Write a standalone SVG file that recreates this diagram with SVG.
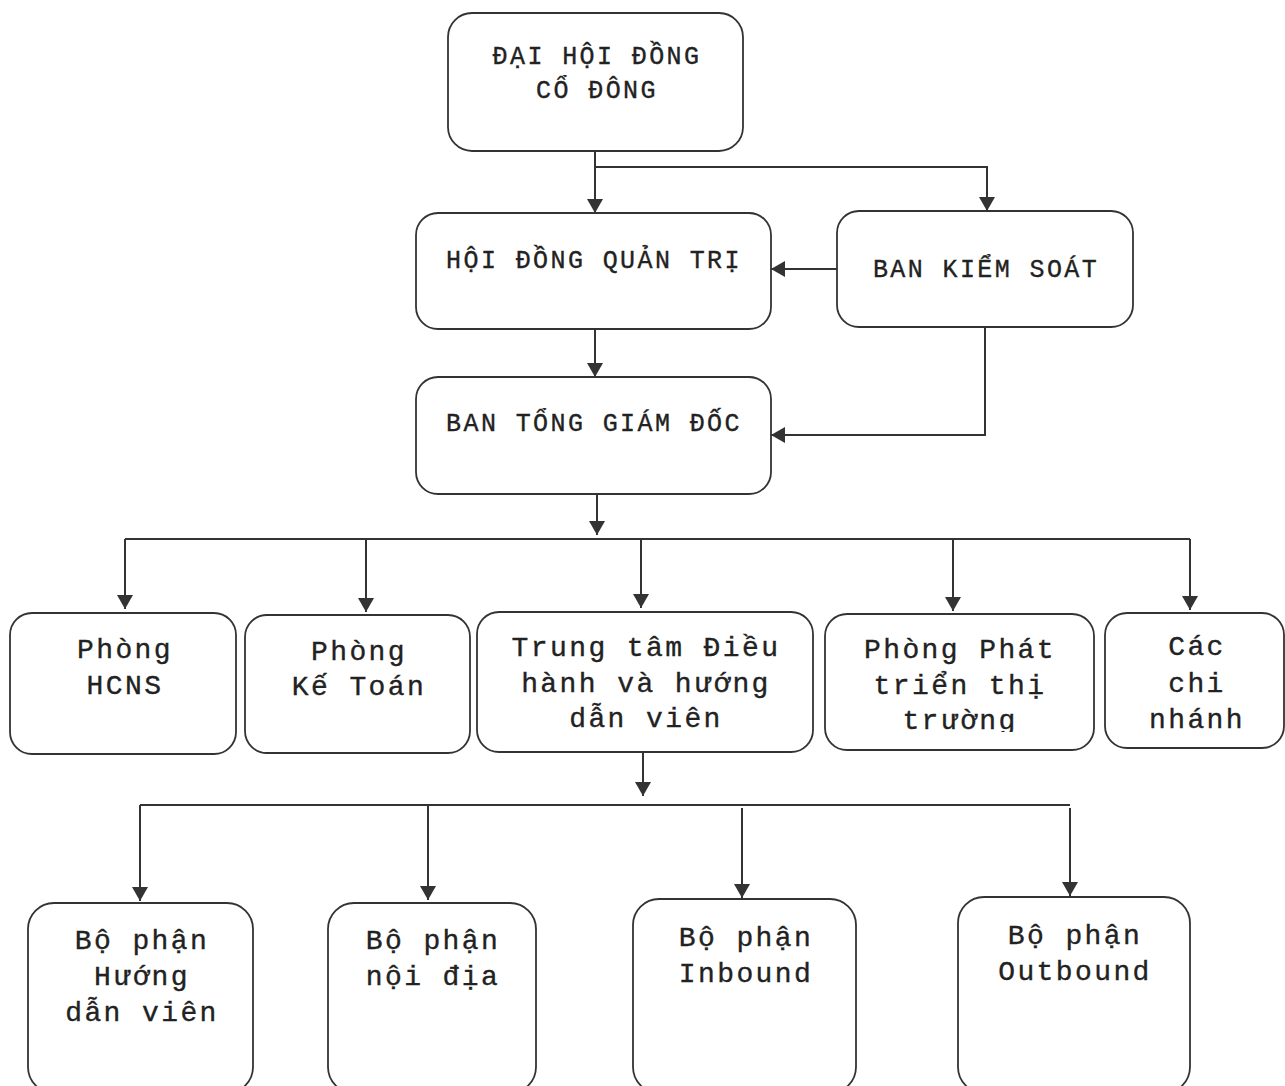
<svg xmlns="http://www.w3.org/2000/svg" width="1285" height="1086" viewBox="0 0 1285 1086">
<defs>
<marker id="arr" markerUnits="userSpaceOnUse" markerWidth="14" markerHeight="16" viewBox="0 0 14 16" refX="14" refY="8" orient="auto">
<path d="M0,0 L14,8 L0,16 Z" fill="#333"/>
</marker>
<style>
.box{fill:#fff;stroke:#333;stroke-width:1.8}
.t1{font-family:"Courier New","Nimbus Mono PS","FreeMono","Liberation Mono",monospace;font-size:25px;letter-spacing:2.4px;fill:#222;stroke:#222;stroke-width:0.35;text-anchor:middle}
.t2{font-family:"Courier New","Nimbus Mono PS","FreeMono","Liberation Mono",monospace;font-size:28px;letter-spacing:2.4px;fill:#222;stroke:#222;stroke-width:0.35;text-anchor:middle}
.c{fill:none;stroke:#333;stroke-width:2}
.a{fill:none;stroke:#333;stroke-width:2;marker-end:url(#arr)}
</style>
<clipPath id="clipPT"><rect x="825" y="614" width="270" height="118"/></clipPath>
</defs>
<rect width="1285" height="1086" fill="#fff"/>

<g id="connectors">
<path class="a" d="M595,151 V213"/>
<path class="a" d="M595,167 H987 V211"/>
<path class="a" d="M837,269 H771"/>
<path class="a" d="M595,329 V377"/>
<path class="a" d="M985,327 V435 H771"/>
<path class="a" d="M597,494 V535"/>
<path class="c" d="M125,539 H1190"/>
<path class="a" d="M125,539 V609"/>
<path class="a" d="M366,539 V612"/>
<path class="a" d="M641,539 V608"/>
<path class="a" d="M953,539 V611"/>
<path class="a" d="M1190,539 V610"/>
<path class="a" d="M643,752 V796"/>
<path class="c" d="M140,805 H1070"/>
<path class="a" d="M140,805 V901"/>
<path class="a" d="M428,805 V900"/>
<path class="a" d="M742,808 V898"/>
<path class="a" d="M1070,808 V896"/>
</g>

<g id="n-dhdcd">
<rect class="box" x="448" y="13" width="295" height="138" rx="24"/>
<text class="t1" x="597" y="64">ĐẠI HỘI ĐỒNG</text>
<text class="t1" x="597" y="98">CỔ ĐÔNG</text>
</g>
<g id="n-hdqt">
<rect class="box" x="416" y="213" width="355" height="116" rx="22"/>
<text class="t1" x="594" y="268">HỘI ĐỒNG QUẢN TRỊ</text>
</g>
<g id="n-bks">
<rect class="box" x="837" y="211" width="296" height="116" rx="22"/>
<text class="t1" x="986" y="277">BAN KIỂM SOÁT</text>
</g>
<g id="n-btgd">
<rect class="box" x="416" y="377" width="355" height="117" rx="22"/>
<text class="t1" x="594" y="431">BAN TỔNG GIÁM ĐỐC</text>
</g>

<g id="n-hcns">
<rect class="box" x="10" y="613" width="226" height="141" rx="22"/>
<text class="t2" x="125" y="658">Phòng</text>
<text class="t2" x="125" y="694">HCNS</text>
</g>
<g id="n-ketoan">
<rect class="box" x="245" y="615" width="225" height="138" rx="22"/>
<text class="t2" x="359" y="660">Phòng</text>
<text class="t2" x="359" y="695">Kế Toán</text>
</g>
<g id="n-trungtam">
<rect class="box" x="477" y="612" width="336" height="140" rx="22"/>
<text class="t2" x="646" y="656">Trung tâm Điều</text>
<text class="t2" x="646" y="692">hành và hướng</text>
<text class="t2" x="646" y="727">dẫn viên</text>
</g>
<g id="n-phattrien">
<rect class="box" x="825" y="614" width="269" height="136" rx="22"/>
<text class="t2" x="960" y="658">Phòng Phát</text>
<text class="t2" x="960" y="694">triển thị</text>
<text class="t2" x="960" y="729" clip-path="url(#clipPT)">trường</text>
</g>
<g id="n-chinhanh">
<rect class="box" x="1105" y="613" width="179" height="135" rx="22"/>
<text class="t2" x="1197" y="655">Các</text>
<text class="t2" x="1197" y="692">chi</text>
<text class="t2" x="1197" y="728">nhánh</text>
</g>

<g id="n-huongdan">
<rect class="box" x="28" y="903" width="225" height="190" rx="26"/>
<text class="t2" x="142" y="949">Bộ phận</text>
<text class="t2" x="142" y="985">Hướng</text>
<text class="t2" x="142" y="1021">dẫn viên</text>
</g>
<g id="n-noidia">
<rect class="box" x="328" y="903" width="208" height="190" rx="26"/>
<text class="t2" x="433" y="949">Bộ phận</text>
<text class="t2" x="433" y="985">nội địa</text>
</g>
<g id="n-inbound">
<rect class="box" x="633" y="899" width="223" height="194" rx="26"/>
<text class="t2" x="746" y="946">Bộ phận</text>
<text class="t2" x="746" y="982">Inbound</text>
</g>
<g id="n-outbound">
<rect class="box" x="958" y="897" width="232" height="196" rx="26"/>
<text class="t2" x="1075" y="944">Bộ phận</text>
<text class="t2" x="1075" y="980">Outbound</text>
</g>
</svg>
